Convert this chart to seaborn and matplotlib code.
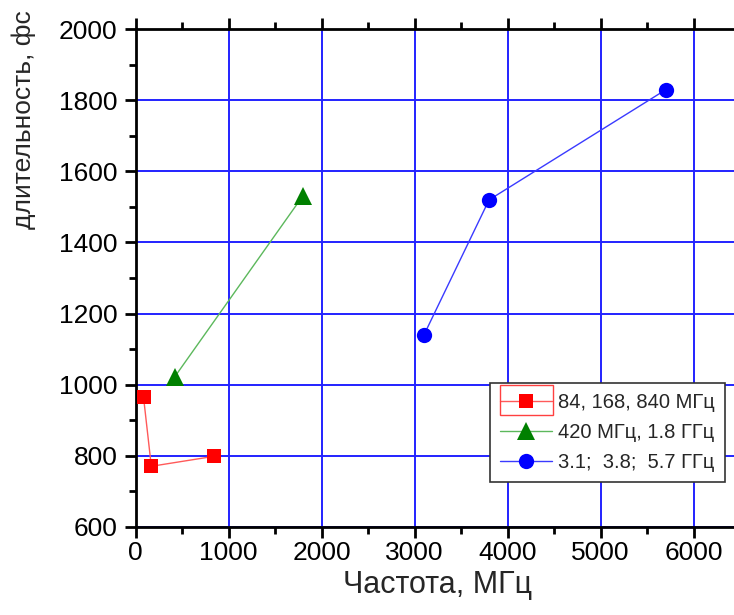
import matplotlib
matplotlib.use("Agg")
import matplotlib.pyplot as plt
from matplotlib.ticker import MultipleLocator
from matplotlib.patches import Rectangle
import seaborn as sns
import pandas as pd

# Pulse duration vs. modulation frequency, three source groups
freq_mhz_a = [84, 168, 840]
dur_fs_a = [965, 770, 798]
freq_mhz_b = [420, 1800]
dur_fs_b = [1022, 1532]
freq_mhz_c = [3100, 3800, 5700]
dur_fs_c = [1140, 1520, 1830]

labels = ["84, 168, 840 МГц", "420 МГц, 1.8 ГГц", "3.1;  3.8;  5.7 ГГц"]
x_ticks = [0, 1000, 2000, 3000, 4000, 5000, 6000]
y_ticks = [600, 800, 1000, 1200, 1400, 1600, 1800, 2000]

sns.set_theme(style="ticks")
plt.rcParams["font.family"] = ["Liberation Sans", "DejaVu Sans"]

W, H = 734, 615
fig = plt.figure(figsize=(W / 100, H / 100), dpi=100)
ax = fig.add_axes([135.7 / W, 1 - 526.7 / H, (740.2 - 135.7) / W, (526.7 - 29.3) / H])

series = [
    (freq_mhz_a, dur_fs_a, labels[0], "s", "#ff0000", "#ff5a5a", 9.5),
    (freq_mhz_b, dur_fs_b, labels[1], "^", "#008000", "#5cb85c", 12.3),
    (freq_mhz_c, dur_fs_c, labels[2], "o", "#0000ff", "#3a3aff", 11),
]
for xs, ys, lab, mk, mcol, lcol, ms in series:
    df = pd.DataFrame({"x": xs, "y": ys})
    sns.lineplot(data=df, x="x", y="y", ax=ax, sort=False, color=lcol, lw=1.0,
                 marker=mk, markersize=ms, markerfacecolor=mcol, markeredgecolor=mcol,
                 markeredgewidth=0, label=lab, zorder=5)

ax.set_xlim(0, 6500)
ax.set_ylim(600, 2000)
ax.set_xticks(x_ticks)
ax.set_yticks(y_ticks)
ax.xaxis.set_minor_locator(MultipleLocator(500))
ax.yaxis.set_minor_locator(MultipleLocator(100))
ax.grid(True, which="major", color="#2222ff", lw=1.4)
ax.set_axisbelow(True)

for side in ["left", "bottom", "top", "right"]:
    ax.spines[side].set_visible(True)
    ax.spines[side].set_color("black")
    ax.spines[side].set_linewidth(2)
ax.tick_params(which="major", direction="out", length=8, width=2, labelsize=19,
               colors="black", top=True, labeltop=False)
ax.tick_params(axis="x", which="major", pad=2)
ax.tick_params(axis="y", which="major", pad=5)
ax.tick_params(which="minor", direction="out", length=5, width=2, top=True, colors="black")

ax.set_xlabel("Частота, МГц", fontsize=22, labelpad=4)
ax.set_ylabel("длительность, фс", fontsize=19, ha="center", va="center")
ax.yaxis.set_label_coords((24 - 135.7) / 604.5, (526.7 - 120) / 497.4)

leg = ax.legend(loc="upper left", bbox_to_anchor=(490 / W, 1 - 383 / H),
                bbox_transform=fig.transFigure, borderaxespad=0, fontsize=14.5,
                frameon=True, fancybox=False, handlelength=2.6, handletextpad=0.3,
                borderpad=0.5, labelspacing=0.55)
leg.get_frame().set_edgecolor("#333333")
leg.get_frame().set_linewidth(1.2)
leg.get_frame().set_alpha(1)
leg.set_zorder(10)

# highlight box around the first legend key
fig.canvas.draw()
renderer = fig.canvas.get_renderer()
fb = leg.get_frame().get_window_extent(renderer)
box = Rectangle((fb.x0 + 10, fb.y1 - 32), 53, 30, transform=None,
                fill=False, edgecolor="#ff4040", lw=1.0, zorder=11)
fig.patches.append(box)

fig.savefig("out.png", dpi=100)
